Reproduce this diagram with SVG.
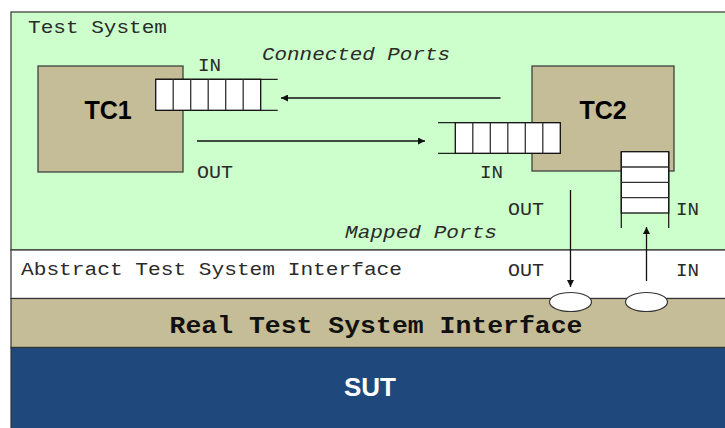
<svg xmlns="http://www.w3.org/2000/svg" width="725" height="428" viewBox="0 0 725 428">
<defs>
<style>
.mono{font-family:"Liberation Mono","Courier New",monospace;fill:#2a2a2a;font-size:18px}
.big{font-size:23px;font-weight:bold;fill:#111}
.sans{font-family:"Liberation Sans",Arial,sans-serif;font-weight:bold}
.tc{fill:#C4BD97;stroke:#404040;stroke-width:1.3}
.q{fill:#fff;stroke:#111;stroke-width:1.3}
.qd{stroke:#333;stroke-width:1.3}
.ql{stroke:#222;stroke-width:1.3;fill:none}
.conn{stroke:#111;stroke-width:1.3;fill:none}
.sap{fill:#fff;stroke:#333;stroke-width:1.2}
</style>
<marker id="ah" viewBox="0 0 10 10" refX="10" refY="5" markerWidth="8" markerHeight="7" markerUnits="userSpaceOnUse" orient="auto">
<path d="M0,0 L10,5 L0,10 z" fill="#111"/>
</marker>
</defs>
<rect width="725" height="428" fill="#fff"/>
<g id="test-system">
<rect x="11" y="12" width="720" height="238" fill="#CCFFCC" stroke="#333" stroke-width="1.2"/>
<text class="mono" x="28" y="33" textLength="139" lengthAdjust="spacingAndGlyphs">Test System</text>
</g>
<g id="abstract-interface">
<rect x="11" y="250" width="720" height="48.5" fill="#fff" stroke="#333" stroke-width="1.2"/>
<text class="mono" x="21" y="275" textLength="381" lengthAdjust="spacingAndGlyphs">Abstract Test System Interface</text>
<text class="mono" x="508" y="276" textLength="36" lengthAdjust="spacingAndGlyphs">OUT</text>
<text class="mono" x="676" y="276" textLength="23" lengthAdjust="spacingAndGlyphs">IN</text>
</g>
<g id="real-interface">
<rect x="11" y="298.5" width="720" height="49" fill="#C4BD97" stroke="#333" stroke-width="1.2"/>
<text class="mono big" x="376" y="333" text-anchor="middle" textLength="413" lengthAdjust="spacingAndGlyphs">Real Test System Interface</text>
</g>
<g id="sut">
<rect x="11" y="347.5" width="720" height="85" fill="#1F497D" stroke="#333" stroke-width="1.2"/>
<text class="sans" x="370" y="396" font-size="26" text-anchor="middle" fill="#fff">SUT</text>
</g>
<g id="tc1">
<rect class="tc" x="38" y="66" width="145" height="106"/>
<text class="sans" x="108" y="119" font-size="25" text-anchor="middle" fill="#000">TC1</text>
</g>
<g id="tc1-in">
<path class="ql" d="M155.7,79.3 H277.7 M155.7,110.3 H277.7"/>
<rect class="q" x="155.7" y="79.3" width="105" height="31"/>
<path class="qd" d="M173.2,79.3 V110.3 M190.7,79.3 V110.3 M208.2,79.3 V110.3 M225.7,79.3 V110.3 M243.2,79.3 V110.3"/>
<text class="mono" x="198" y="71" textLength="23" lengthAdjust="spacingAndGlyphs">IN</text>
</g>
<g id="tc1-out">
<text class="mono" x="197" y="178" textLength="36" lengthAdjust="spacingAndGlyphs">OUT</text>
</g>
<g id="tc2">
<rect class="tc" x="532" y="66" width="142" height="105"/>
<text class="sans" x="603" y="119" font-size="25" text-anchor="middle" fill="#000">TC2</text>
</g>
<g id="tc2-in">
<path class="ql" d="M438,122.7 H560.3 M438,153.3 H560.3"/>
<rect class="q" x="455.3" y="122.7" width="105" height="30.6"/>
<path class="qd" d="M472.8,122.7 V153.3 M490.3,122.7 V153.3 M507.8,122.7 V153.3 M525.3,122.7 V153.3 M542.8,122.7 V153.3"/>
<text class="mono" x="480" y="178" textLength="23" lengthAdjust="spacingAndGlyphs">IN</text>
</g>
<g id="tc2-mapped-in">
<path class="ql" d="M621.3,151.7 V228 M668.7,151.7 V228"/>
<rect class="q" x="621.3" y="151.7" width="47.4" height="61.3"/>
<path class="qd" d="M621.3,167 H668.7 M621.3,182.3 H668.7 M621.3,197.6 H668.7"/>
<text class="mono" x="676" y="215" textLength="23" lengthAdjust="spacingAndGlyphs">IN</text>
</g>
<g id="tc2-mapped-out">
<text class="mono" x="508" y="215" textLength="36" lengthAdjust="spacingAndGlyphs">OUT</text>
</g>
<g id="sap-out"><ellipse class="sap" cx="570.5" cy="302" rx="21" ry="9.5"/></g>
<g id="sap-in"><ellipse class="sap" cx="646.5" cy="302" rx="21" ry="9.5"/></g>
<g id="labels">
<text class="mono" x="262" y="60" font-style="italic" textLength="188" lengthAdjust="spacingAndGlyphs">Connected Ports</text>
<text class="mono" x="345" y="238" font-style="italic" textLength="152" lengthAdjust="spacingAndGlyphs">Mapped Ports</text>
</g>
<g id="connectors">
<line class="conn" x1="500.5" y1="98" x2="281" y2="98" marker-end="url(#ah)"/>
<line class="conn" x1="197" y1="141" x2="425" y2="141" marker-end="url(#ah)"/>
<line class="conn" x1="570.5" y1="190" x2="570.5" y2="287" marker-end="url(#ah)"/>
<line class="conn" x1="646.5" y1="281" x2="646.5" y2="227" marker-end="url(#ah)"/>
</g>
</svg>
